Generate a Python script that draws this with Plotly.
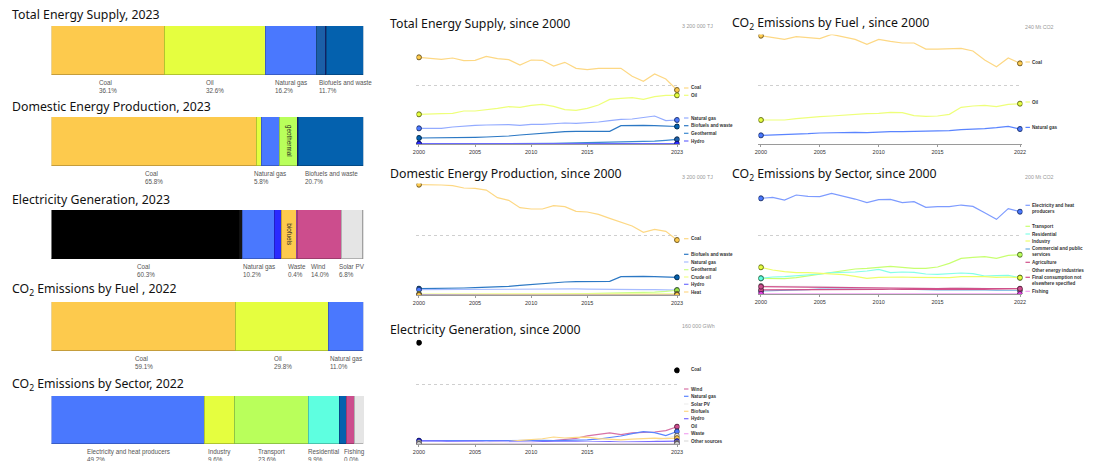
import plotly.graph_objects as go

W, H = 1094, 461

# ---------------- snapshot shares (%) ----------------
tes_cats = ["Coal", "Oil", "Natural gas", "Geothermal", "Hydro", "Biofuels and waste"]
tes_share = [36.1, 32.6, 16.2, 3.1, 0.3, 11.7]
tes_labeled = ["Coal", "Oil", "Natural gas", "Biofuels and waste"]

dep_cats = ["Coal", "Crude oil", "Natural gas", "Geothermal", "Hydro", "Heat", "Biofuels and waste"]
dep_share = [65.8, 1.5, 5.8, 5.7, 0.4, 0.1, 20.7]
dep_labeled = ["Coal", "Natural gas", "Biofuels and waste"]

elec_cats = ["Coal", "Oil", "Natural gas", "Hydro", "Biofuels", "Waste", "Wind", "Solar PV", "Other sources"]
elec_share = [60.3, 1.0, 10.2, 2.3, 4.8, 0.4, 14.0, 6.8, 0.2]
elec_labeled = ["Coal", "Natural gas", "Waste", "Wind", "Solar PV"]

co2f_cats = ["Coal", "Oil", "Natural gas"]
co2f_share = [59.1, 29.8, 11.0]
co2f_labeled = ["Coal", "Oil", "Natural gas"]

co2s_cats = ["Electricity and heat producers", "Industry", "Transport", "Residential",
             "Commercial and public services", "Agriculture", "Fishing", "Other energy industries"]
co2s_share = [49.2, 9.6, 23.6, 9.9, 2.3, 2.7, 0.0, 2.7]
co2s_labeled = ["Electricity and heat producers", "Industry", "Transport", "Residential", "Fishing"]

# ---------------- time series ----------------
years_to_2023 = list(range(2000, 2024))
years_to_2022 = list(range(2000, 2023))

# Total energy supply, thousand TJ
tes_coal_ts = [2350, 2332, 2296, 2332, 2260, 2269, 2377, 2314, 2287, 2142, 2278, 2269, 2115, 2215, 2052, 2016, 2052, 2052, 2052, 1835, 1700, 1899, 1763, 1464]
tes_oil_ts = [805, 823, 823, 832, 895, 895, 922, 967, 1012, 994, 1049, 1076, 1021, 931, 913, 967, 1058, 1211, 1238, 1256, 1211, 1284, 1320, 1320]
tes_ng_ts = [425, 425, 425, 461, 488, 506, 515, 524, 524, 506, 533, 533, 560, 569, 560, 569, 597, 633, 669, 678, 723, 759, 633, 651]
tes_bio_ts = [163, 163, 172, 172, 181, 181, 190, 199, 217, 244, 271, 298, 325, 334, 344, 344, 344, 344, 497, 506, 506, 497, 488, 474]
tes_geo_ts = [0, 0, 1, 1, 1, 1, 1, 2, 3, 4, 6, 11, 17, 22, 28, 40, 46, 54, 47, 57, 68, 76, 99, 127]
tes_hydro_ts = [7.5, 8.3, 8.2, 6.1, 7.5, 7.9, 7.3, 8.4, 7.8, 8.5, 10.5, 8.4, 7.4, 8.5, 7.9, 6.6, 7.6, 9.5, 7.0, 7.0, 10.5, 10.1, 7.4, 8.5]

# Domestic energy production, thousand TJ
dep_coal_ts = [2984, 2984, 2975, 2957, 2894, 2884, 2839, 2632, 2560, 2362, 2326, 2326, 2416, 2389, 2263, 2245, 2181, 2073, 1974, 1866, 1695, 1776, 1722, 1487]
dep_bio_ts = [171, 171, 180, 180, 189, 198, 207, 216, 234, 261, 288, 316, 343, 352, 361, 361, 370, 370, 496, 505, 505, 496, 487, 478]
dep_ng_ts = [144, 146, 150, 150, 160, 160, 160, 160, 160, 160, 162, 162, 162, 165, 164, 160, 154, 153, 150, 148, 148, 146, 140, 131]
dep_geo_ts = [0, 0, 1, 1, 1, 1, 1, 2, 3, 4, 6, 11, 17, 22, 28, 40, 46, 54, 47, 57, 68, 76, 99, 129]
dep_crude_ts = [27, 28, 29, 29, 33, 33, 30, 27, 28, 27, 27, 25, 26, 36, 36, 35, 38, 37, 36, 36, 35, 33, 32, 34]
dep_hydro_ts = [7.5, 8.3, 8.2, 6.1, 7.5, 7.9, 7.3, 8.4, 7.8, 8.5, 10.5, 8.4, 7.4, 8.5, 7.9, 6.6, 7.6, 9.5, 7.0, 7.0, 10.5, 10.1, 7.4, 9.0]
dep_heat_ts = [0, 0, 0, 0, 0, 0, 0, 0, 0, 0, 0, 0, 0, 0, 0, 0, 0, 0.5, 0.8, 1.0, 1.4, 1.8, 2.3, 2.5]

# Electricity generation, thousand GWh
el_coal_years = [2000, 2023]
el_coal_ts = [137.0, 99.6]
el_wind_ts = [0.0, 0.0, 0.1, 0.1, 0.1, 0.1, 0.3, 0.5, 0.8, 1.0, 1.7, 3.2, 4.7, 6.0, 7.7, 10.9, 12.6, 14.9, 12.8, 15.1, 15.8, 16.2, 18.0, 23.4]
el_ng_ts = [4.5, 4.6, 4.4, 4.5, 4.6, 4.5, 4.4, 4.4, 4.3, 4.4, 4.6, 4.8, 4.5, 4.6, 5.0, 5.6, 6.8, 8.6, 10.8, 14.0, 16.7, 15.3, 11.3, 16.9]
el_solar_ts = [0, 0, 0, 0, 0, 0, 0, 0, 0, 0, 0, 0, 0, 0, 0, 0.1, 0.1, 0.2, 0.3, 0.7, 2.0, 3.9, 8.3, 11.2]
el_bio_ts = [0.4, 0.4, 0.5, 0.6, 0.9, 1.4, 1.8, 2.3, 3.4, 4.9, 5.9, 7.1, 9.5, 8.1, 8.9, 9.2, 7.3, 6.4, 5.7, 6.6, 7.4, 7.9, 7.2, 7.9]
el_hydro_ts = [4.1, 4.3, 3.9, 3.3, 3.7, 3.8, 3.0, 3.8, 3.3, 3.5, 4.0, 3.4, 3.0, 3.4, 3.0, 2.5, 2.8, 3.3, 2.5, 2.6, 3.1, 3.5, 2.8, 3.8]
el_oil_ts = [2.0, 2.1, 2.0, 2.5, 2.3, 2.6, 2.6, 2.3, 2.6, 2.5, 2.5, 2.0, 2.1, 2.2, 2.2, 2.5, 2.7, 2.0, 1.6, 1.6, 1.6, 1.8, 2.1, 1.7]
el_waste_ts = [0, 0, 0, 0, 0, 0, 0, 0, 0, 0, 0, 0, 0, 0, 0, 0.1, 0.3, 0.3, 0.4, 0.4, 0.5, 0.5, 0.6, 0.7]
el_other_ts = [0.2, 0.2, 0.2, 0.2, 0.2, 0.3, 0.3, 0.3, 0.3, 0.3, 0.3, 0.3, 0.3, 0.3, 0.3, 0.3, 0.3, 0.3, 0.3, 0.3, 0.3, 0.3, 0.3, 0.3]

# CO2 by fuel, Mt
co2_coal_ts = [221.6, 217.5, 214.1, 219.5, 218.2, 215.5, 224.3, 219.5, 214.1, 203.9, 214.1, 210.0, 206.6, 206.6, 194.3, 194.3, 194.3, 195.7, 190.2, 171.8, 158.2, 175.9, 165.0]
co2_oil_ts = [49.1, 48.4, 49.1, 51.8, 54.5, 55.9, 57.3, 59.3, 61.4, 62.0, 62.7, 64.8, 64.1, 58.0, 56.6, 57.3, 60.7, 75.0, 77.7, 79.1, 76.4, 81.1, 82.5]
co2_ng_ts = [17.7, 18.4, 18.4, 20.5, 21.1, 22.5, 23.2, 23.2, 23.9, 23.2, 24.5, 25.2, 25.2, 25.9, 25.2, 25.9, 27.3, 29.3, 30.0, 31.4, 33.4, 36.1, 30.7]

# CO2 by sector, Mt
co2_elec_ts = [163.1, 164.8, 160.2, 168.8, 166.5, 165.9, 171.6, 167.0, 161.9, 155.7, 160.8, 161.4, 155.7, 157.4, 147.7, 148.9, 148.9, 151.7, 149.4, 138.6, 127.3, 145.5, 140.3]
co2_transport_ts = [26.7, 26.1, 26.1, 27.8, 30.7, 33.0, 36.4, 39.8, 42.6, 43.8, 45.5, 47.2, 45.5, 43.8, 43.8, 46.0, 52.3, 60.8, 62.5, 63.6, 60.8, 65.9, 67.0]
co2_resid_ts = [26.7, 29.0, 29.5, 30.7, 32.4, 34.1, 36.4, 36.9, 37.5, 39.2, 42.0, 36.4, 37.5, 36.9, 34.1, 33.5, 35.2, 35.8, 34.7, 30.7, 31.3, 31.8, 27.8]
co2_industry_ts = [45.5, 40.9, 38.1, 36.4, 36.4, 35.2, 34.1, 33.0, 30.1, 26.7, 28.4, 29.0, 29.0, 28.4, 28.4, 27.3, 27.8, 29.5, 30.1, 29.5, 28.4, 29.0, 27.8]
co2_commercial_ts = [5.1, 5.5, 6.2, 6.9, 7.6, 8.5, 8.6, 8.5, 8.3, 8.4, 8.6, 8.2, 8.0, 7.8, 7.2, 7.0, 7.3, 7.4, 7.2, 6.8, 6.4, 6.9, 6.6]
co2_agri_ts = [7.0, 7.2, 7.1, 7.3, 7.2, 7.4, 7.5, 7.7, 7.8, 7.6, 7.9, 7.7, 7.8, 7.9, 7.8, 7.9, 8.1, 8.2, 8.0, 7.9, 7.8, 7.9, 7.7]
co2_other_en_ts = [13.6, 13.2, 12.8, 12.5, 13.0, 13.0, 12.3, 11.5, 10.5, 9.5, 9.0, 9.2, 9.5, 9.7, 9.5, 9.3, 10.0, 11.4, 11.0, 9.5, 8.5, 8.8, 8.0]
co2_final_nes_ts = [12.5, 12.2, 12.0, 11.8, 12.0, 12.0, 11.5, 11.0, 10.5, 10.2, 9.7, 9.7, 9.5, 9.5, 9.3, 9.2, 9.5, 9.8, 9.6, 9.4, 9.0, 9.3, 9.0]
co2_fishing_ts = [0.3, 0.3, 0.3, 0.3, 0.2, 0.2, 0.2, 0.2, 0.2, 0.2, 0.1, 0.1, 0.1, 0.1, 0.1, 0.1, 0.1, 0.1, 0.1, 0.1, 0.1, 0.1, 0.1]

# ---------------- styling ----------------
COAL, OIL, GAS, BIO = "#fdca4d", "#e5fe3f", "#4a78fe", "#0461ae"
LEFT_TITLE_FONT = dict(family="Noto Sans", size=12.3, color="#111")
LINE_TITLE_FONT = dict(family="Noto Sans", size=12.3, color="#111")
SMALL_FONT = dict(family="Liberation Sans", size=6.3, color="#555")
LEG_FONT = dict(family="Liberation Sans", size=4.6, color="#333")


def darker(hexc, f=0.72):
    h = hexc.lstrip("#")
    r, g, b = (int(h[i:i + 2], 16) for i in (0, 2, 4))
    return "#%02x%02x%02x" % (int(r * f), int(g * f), int(b * f))


def py(y):
    return 1 - y / H


def px(x):
    return x / W


fig = go.Figure()
layout = {}
annotations = []
shapes = []
axis_counter = [0]


def new_axes():
    axis_counter[0] += 1
    n = axis_counter[0]
    s = "" if n == 1 else str(n)
    return "x" + s, "y" + s, "xaxis" + s, "yaxis" + s


# ---------------- left: stacked share bars ----------------
bar_specs = [
    ("Total Energy Supply, 2023", tes_cats, tes_share,
     [COAL, OIL, GAS, "#1b5fa8", "#1a2a80", BIO], tes_labeled, {}, (26, 75), 14),
    ("Domestic Energy Production, 2023", dep_cats, dep_share,
     [COAL, OIL, GAS, "#b9ff5b", "#1a2a80", "#f3a04a", BIO], dep_labeled,
     {"Geothermal": "geothermal"}, (117, 166), 106),
    ("Electricity Generation, 2023", elec_cats, elec_share,
     ["#000000", "#151515", GAS, "#2a2aff", COAL, "#c050c0", "#cc4d8d", "#e5e5e5", "#d0d0d0"],
     elec_labeled, {"Biofuels": "biofuels"}, (210, 259), 199),
    ("CO<sub>2</sub> Emissions by Fuel , 2022", co2f_cats, co2f_share,
     [COAL, OIL, GAS], co2f_labeled, {}, (302, 351), 289),
    ("CO<sub>2</sub> Emissions by Sector, 2022", co2s_cats, co2s_share,
     [GAS, OIL, "#b9ff5b", "#5effe0", BIO, "#cc4d8d", "#f0a0f0", "#e5e5e5"],
     co2s_labeled, {}, (396, 444), 384),
]

for title, cats, shares, colors, labeled, rotated, (top, bot), ty in bar_specs:
    xr, yr, xn, yn = new_axes()
    total = sum(shares)
    layout[xn] = dict(domain=[px(48), px(362)], range=[0, total], visible=False, fixedrange=True)
    layout[yn] = dict(domain=[py(bot), py(top)], range=[-0.5, 0.5], visible=False, fixedrange=True)
    cum = 0.0
    for cat, v, c in zip(cats, shares, colors):
        fig.add_trace(go.Bar(x=[v], y=[0], orientation="h", width=1, xaxis=xr, yaxis=yr,
                             marker=dict(color=c, line=dict(color=darker(c), width=0.8)),
                             name=cat, showlegend=False, hoverinfo="skip"))
        center = cum + v / 2
        if cat in labeled:
            annotations.append(dict(x=center, xref=xr, y=py(bot + 2), yref="paper",
                                    text=f"{cat}<br>{v:.1f}%", showarrow=False, xanchor="center",
                                    yanchor="top", align="left", font=SMALL_FONT))
        if cat in rotated:
            annotations.append(dict(x=center, xref=xr, y=0, yref=yr, text=rotated[cat],
                                    textangle=90, showarrow=False,
                                    font=dict(family="Liberation Sans", size=6.3, color="#222")))
        cum += v
    annotations.append(dict(x=px(6), xref="paper", y=py(ty), yref="paper", text=title,
                            showarrow=False, xanchor="left", yanchor="middle", font=LEFT_TITLE_FONT))
layout["barmode"] = "stack"
layout["bargap"] = 0

# ---------------- right: line charts ----------------
line_specs = [
    dict(title="Total Energy Supply, since 2000", xpx=(415.5, 680.5), ypx=(26, 144),
         years=years_to_2023, ymax=3200, unit="3 200 000 TJ", title_xy=(387, 24),
         ticks=[2000, 2005, 2010, 2015, 2023], leg_x=685,
         series=[
             ("Coal", tes_coal_ts, "#fdd884", COAL, 88),
             ("Oil", tes_oil_ts, "#eeff7a", OIL, 95.3),
             ("Natural gas", tes_ng_ts, "#93abff", GAS, 118),
             ("Biofuels and waste", tes_bio_ts, "#2c78c4", BIO, 125.7),
             ("Geothermal", tes_geo_ts, "#3d8ad0", "#1b5fa8", 133.3),
             ("Hydro", tes_hydro_ts, "#6a6aff", "#2a2aff", 141),
         ]),
    dict(title="Domestic Energy Production, since 2000", xpx=(415.5, 680.5), ypx=(176.7, 295),
         years=years_to_2023, ymax=3200, unit="3 200 000 TJ", title_xy=(387, 174),
         ticks=[2000, 2005, 2010, 2015, 2023], leg_x=685,
         series=[
             ("Coal", dep_coal_ts, "#fdd884", COAL, 238.7),
             ("Biofuels and waste", dep_bio_ts, "#2c78c4", BIO, 254.3),
             ("Natural gas", dep_ng_ts, "#a7bcff", GAS, 262),
             ("Geothermal", dep_geo_ts, "#c9ff8a", "#9be64a", 269.7),
             ("Crude oil", dep_crude_ts, "#f0ff8a", OIL, 277),
             ("Hydro", dep_hydro_ts, "#7070ff", "#2a2aff", 284.3),
             ("Heat", dep_heat_ts, "#ffd98a", COAL, 292),
         ]),
    dict(title="Electricity Generation, since 2000", xpx=(415.5, 680.5), ypx=(325.7, 444),
         years=years_to_2023, ymax=160, unit="160 000 GWh", title_xy=(387, 329),
         ticks=[2000, 2005, 2010, 2015, 2023], leg_x=685,
         series=[
             ("Coal", el_coal_ts, None, "#000000", 369, el_coal_years),
             ("Wind", el_wind_ts, "#d872a6", "#cc4d8d", 389),
             ("Natural gas", el_ng_ts, "#5a84ff", GAS, 396.3),
             ("Solar PV", el_solar_ts, "#eeeeee", "#e5e5e5", 404),
             ("Biofuels", el_bio_ts, "#fdd884", COAL, 411.3),
             ("Hydro", el_hydro_ts, "#7a6aff", "#2a2aff", 418.7),
             ("Oil", el_oil_ts, "#ffffff", "#ffffff", 426),
             ("Waste", el_waste_ts, "#f2a6f2", "#e070e0", 433.7),
             ("Other sources", el_other_ts, "#dddddd", "#cccccc", 441),
         ]),
    dict(title="CO<sub>2</sub> Emissions by Fuel , since 2000", xpx=(760, 1026), ypx=(26.7, 144),
         years=years_to_2022, ymax=240, unit="240 Mt CO2", title_xy=(731, 24),
         ticks=[2000, 2005, 2010, 2015, 2022], leg_x=1029,
         series=[
             ("Coal", co2_coal_ts, "#fdd884", COAL, 62),
             ("Oil", co2_oil_ts, "#eeff7a", OIL, 102),
             ("Natural gas", co2_ng_ts, "#5a84ff", GAS, 127.4),
         ]),
    dict(title="CO<sub>2</sub> Emissions by Sector, since 2000", xpx=(760, 1026), ypx=(176.7, 294),
         years=years_to_2022, ymax=200, unit="200 Mt CO2", title_xy=(731, 175),
         ticks=[2000, 2005, 2010, 2015, 2022], leg_x=1029,
         series=[
             ("Electricity and heat<br>producers", co2_elec_ts, "#7d9bff", GAS, 205.3),
             ("Transport", co2_transport_ts, "#c8ff70", "#b9ff5b", 226.3),
             ("Residential", co2_resid_ts, "#84ffe8", "#5effe0", 234),
             ("Industry", co2_industry_ts, "#eeff6a", OIL, 241),
             ("Commercial and public<br>services", co2_commercial_ts, "#6aaee0", BIO, 249),
             ("Agriculture", co2_agri_ts, "#d0508a", "#cc4d8d", 262.3),
             ("Other energy industries", co2_other_en_ts, "#ececec", "#ffffff", 270),
             ("Final consumption not<br>elsewhere specified", co2_final_nes_ts, "#d0508a", "#cc4d8d", 277.3),
             ("Fishing", co2_fishing_ts, "#f0a0f0", "#e040e0", 291.3),
         ]),
]

for spec in line_specs:
    xr, yr, xn, yn = new_axes()
    yrs = spec["years"]
    x0p, x1p = spec["xpx"]
    first_px = x0p + 2.5
    last_px = x1p - 2.5
    per = (last_px - first_px) / (yrs[-1] - yrs[0])
    xmin = yrs[0] - (first_px - x0p) / per
    xmax = yrs[-1] + (x1p - last_px) / per
    top, bot = spec["ypx"]
    layout[xn] = dict(domain=[px(x0p), px(x1p)], range=[xmin, xmax], tickvals=spec["ticks"],
                      showline=True, linecolor="#9a9a9a", linewidth=1, ticks="outside",
                      ticklen=2, tickcolor="#9a9a9a", showgrid=False, zeroline=False,
                      tickfont=dict(family="Liberation Sans", size=5.5, color="#333"),
                      anchor=yr, fixedrange=True)
    layout[yn] = dict(domain=[py(bot), py(top)], range=[0, spec["ymax"]],
                      tickvals=[spec["ymax"] / 2, spec["ymax"]], showticklabels=False,
                      showgrid=True, gridcolor="#cfcfcf", griddash="dot", gridwidth=1,
                      zeroline=False, showline=False, anchor=xr, fixedrange=True)
    lx = spec["leg_x"]
    for s in spec["series"]:
        name, vals, lcol, mcol, ly = s[:5]
        xs = s[5] if len(s) > 5 else yrs
        if lcol is not None:
            fig.add_trace(go.Scatter(x=xs, y=vals, mode="lines", xaxis=xr, yaxis=yr,
                                     line=dict(color=lcol, width=1.2), showlegend=False,
                                     hoverinfo="skip"))
        fig.add_trace(go.Scatter(x=[xs[0], xs[-1]], y=[vals[0], vals[-1]], mode="markers",
                                 xaxis=xr, yaxis=yr, showlegend=False, hoverinfo="skip",
                                 marker=dict(size=5, color=mcol,
                                             line=dict(color=darker(mcol, 0.45) if mcol != "#000000" else "#000", width=1))))
        nlines = name.count("<br>") + 1
        cy = ly + (nlines - 1) * 6.0 / 2
        if lcol is not None and lcol != "#ffffff":
            shapes.append(dict(type="line", xref="paper", yref="paper",
                               x0=px(lx), x1=px(lx + 4.5), y0=py(ly), y1=py(ly),
                               line=dict(color=lcol, width=1.2)))
        annotations.append(dict(x=px(lx + 5), xref="paper", y=py(cy), yref="paper",
                                text="<b>" + name + "</b>", showarrow=False, xanchor="left",
                                yanchor="middle", align="left", font=LEG_FONT))
    # unit label at top grid line
    annotations.append(dict(x=px(x1p + 0.5), xref="paper", y=py(top), yref="paper",
                            text=spec["unit"], showarrow=False, xanchor="left", yanchor="middle",
                            font=dict(family="Liberation Sans", size=5.3, color="#999")))
    tx, ty = spec["title_xy"]
    annotations.append(dict(x=px(tx), xref="paper", y=py(ty), yref="paper", text=spec["title"],
                            showarrow=False, xanchor="left", yanchor="middle", bgcolor="#ffffff",
                            font=LINE_TITLE_FONT))

layout.update(width=W, height=H, margin=dict(l=0, r=0, t=0, b=0),
              paper_bgcolor="#ffffff", plot_bgcolor="rgba(0,0,0,0)",
              showlegend=False, annotations=annotations, shapes=shapes)
fig.update_layout(**layout)
fig.write_html("out.html", config={"displayModeBar": False},
               post_script="document.body.style.margin='0';document.body.style.padding='0';")
